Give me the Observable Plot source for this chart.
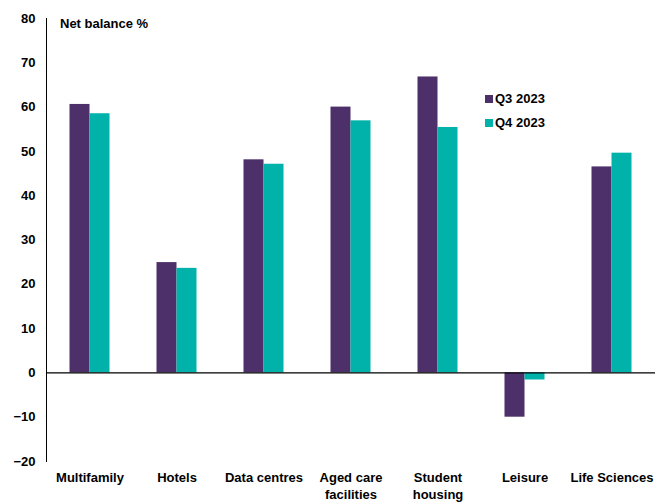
<!DOCTYPE html>
<html>
<head>
<meta charset="utf-8">
<script src="https://cdn.jsdelivr.net/npm/d3@7"></script>
<script src="https://cdn.jsdelivr.net/npm/@observablehq/plot@0.6"></script>
<style>
  html, body { margin: 0; padding: 0; background: #fff; }
  #wrap { position: relative; width: 670px; height: 502px; font-family: "Liberation Sans", Arial, sans-serif; }
  #title { position: absolute; left: 60px; top: 16px; font: bold 13px "Liberation Sans", Arial, sans-serif; color: #000; line-height: 16px; }
  #legend { position: absolute; left: 485px; top: 87px; }
  #legend .lg-swatches { font: bold 13px "Liberation Sans", Arial, sans-serif !important; color: #000; margin: 0 !important; min-height: 0 !important; }
  #legend .lg-swatch { height: 23.7px; padding-bottom: 0 !important; display: flex; align-items: center; }
  #legend .lg-swatch svg { margin-right: 2px !important; }
</style>
</head>
<body>
<div id="wrap">
  <div id="chart"></div>
  <div id="title">Net balance %</div>
  <div id="legend"></div>
</div>
<script>
const categories = ["Multifamily", "Hotels", "Data centres", "Aged care\nfacilities", "Student\nhousing", "Leisure", "Life Sciences"];
const seriesNames = ["Q3 2023", "Q4 2023"];
const q3Values = [60.6, 24.9, 48.1, 60.0, 66.8, -10.0, 46.5];
const q4Values = [58.5, 23.6, 47.1, 56.9, 55.4, -1.6, 49.6];
const yTicks = [-20, -10, 0, 10, 20, 30, 40, 50, 60, 70, 80];
const colors = ["#4D2F69", "#00B2A9"];

const data = [];
categories.forEach((c, i) => {
  data.push({category: c, series: seriesNames[0], value: q3Values[i]});
  data.push({category: c, series: seriesNames[1], value: q4Values[i]});
});

const font = '"Liberation Sans", Arial, sans-serif';

const chart = Plot.plot({
  width: 670,
  height: 502,
  marginLeft: 43.5,
  marginRight: 13.5,
  marginTop: 18,
  marginBottom: 41,
  style: {fontFamily: font, fontSize: "13px", fontWeight: "bold", color: "#000", background: "#fff"},
  fx: {domain: categories, padding: 0, axis: null, label: null},
  x: {domain: seriesNames, paddingInner: 0, paddingOuter: 1.11, axis: null, label: null},
  y: {domain: [-20, 80], ticks: yTicks, tickSize: 0, tickPadding: 11, label: null, line: true},
  color: {domain: seriesNames, range: colors},
  marks: [
    Plot.barY(data, {fx: "category", x: "series", y: "value", fill: "series"}),
    Plot.ruleY([0], {stroke: "#000", strokeWidth: 1.3}),
    Plot.axisFx({anchor: "bottom", tickSize: 0, tickPadding: 9, label: null, fontSize: 13, fontWeight: "bold", lineHeight: 1.27, fill: "#000"})
  ]
});
document.getElementById("chart").appendChild(chart);

const legend = Plot.legend({
  color: {domain: seriesNames, range: colors},
  legend: "swatches",
  columns: 1,
  swatchSize: 8,
  className: "lg"
});
document.getElementById("legend").appendChild(legend);
</script>
</body>
</html>
